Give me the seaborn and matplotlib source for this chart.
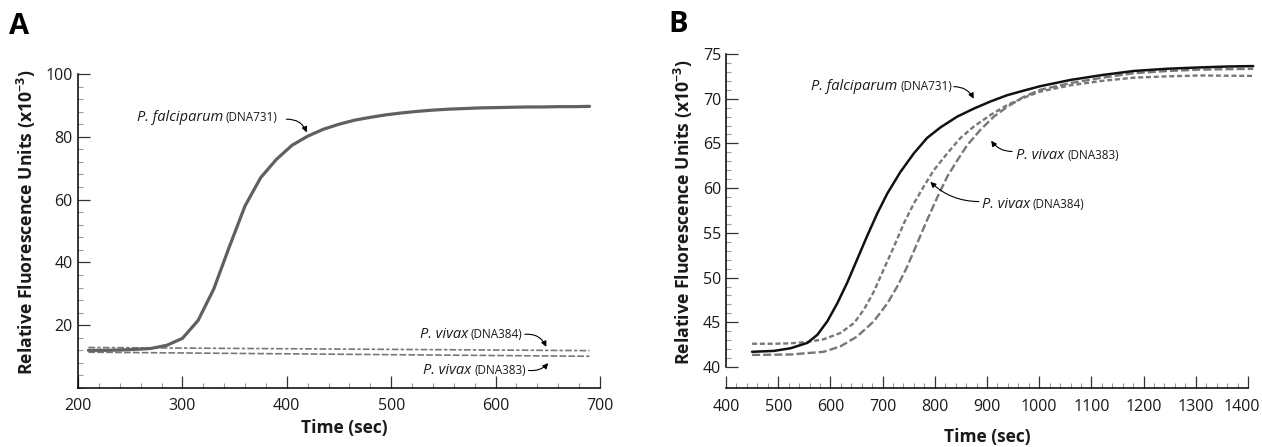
import matplotlib
matplotlib.use("Agg")
import matplotlib.pyplot as plt
import seaborn as sns
from matplotlib.ticker import FixedLocator, MultipleLocator
from matplotlib.offsetbox import TextArea, HPacker, AnnotationBbox
import matplotlib.transforms as mtransforms

# ---- Panel A: fluorescence vs time, 200-700 s ----
time_a = [210, 225, 240, 255, 270, 285, 300, 315, 330, 345, 360, 375, 390,
          405, 420, 435, 450, 465, 480, 495, 510, 525, 540, 555, 570, 585,
          600, 615, 630, 645, 660, 675, 690]
falciparum_a = [12.0, 12.0, 12.1, 12.3, 12.6, 13.6, 15.8, 21.5, 31.5, 45.0,
                58.0, 67.0, 72.8, 77.3, 80.2, 82.4, 84.0, 85.3, 86.2, 87.0,
                87.6, 88.1, 88.5, 88.8, 89.0, 89.2, 89.3, 89.4, 89.5, 89.5,
                89.6, 89.6, 89.7]
time_vivax_a = [210, 690]
vivax384_a = [12.9, 11.9]
vivax383_a = [11.4, 10.1]

# ---- Panel B: fluorescence vs time, 400-1400 s ----
time_pf_b = [450, 492, 524, 556, 575, 594, 613, 632, 651, 670, 690, 709, 734,
             760, 785, 811, 843, 875, 907, 939, 970, 1002, 1060, 1121, 1181,
             1245, 1308, 1360, 1410]
falciparum_b = [41.7, 41.8, 42.1, 42.7, 43.6, 45.1, 47.1, 49.4, 52.0, 54.6,
                57.2, 59.4, 61.8, 63.9, 65.6, 66.8, 68.0, 68.9, 69.7, 70.4,
                70.9, 71.4, 72.1, 72.65, 73.1, 73.35, 73.5, 73.6, 73.65]
time_384_b = [450, 492, 524, 556, 587, 619, 645, 664, 683, 702, 722, 741, 760,
              779, 798, 824, 849, 875, 907, 939, 970, 1002, 1060, 1121, 1181,
              1245, 1308, 1410]
vivax384_b = [42.6, 42.6, 42.65, 42.8, 43.1, 43.8, 44.9, 46.4, 48.4, 50.9,
              53.5, 56.1, 58.3, 60.2, 62.0, 63.9, 65.6, 66.9, 68.2, 69.3,
              70.1, 70.8, 71.5, 72.0, 72.35, 72.5, 72.6, 72.55]
time_383_b = [450, 524, 587, 619, 651, 683, 709, 728, 747, 766, 785, 805, 824,
              843, 862, 887, 913, 939, 970, 1002, 1041, 1060, 1121, 1181, 1245,
              1308, 1410]
vivax383_b = [41.35, 41.4, 41.7, 42.3, 43.4, 45.1, 47.1, 49.0, 51.2, 53.8,
              56.4, 59.0, 61.3, 63.1, 64.8, 66.5, 68.0, 69.1, 70.2, 71.0,
              71.5, 71.75, 72.35, 72.85, 73.1, 73.25, 73.35]

sns.set_theme(style="white")
FONT = ["Open Sans", "DejaVu Sans"]
plt.rcParams["font.family"] = FONT
plt.rcParams["mathtext.default"] = "regular"
plt.rcParams["lines.scale_dashes"] = False
plt.rcParams["axes.unicode_minus"] = False

W, H = 1262, 447
fig = plt.figure(figsize=(W / 100, H / 100), dpi=100)
fig.patch.set_facecolor("white")

def px_axes(left, top, right, bottom):
    return fig.add_axes([left / W, 1 - bottom / H, (right - left) / W, (bottom - top) / H])

axA = px_axes(78, 74, 600, 388)
axB = px_axes(726, 54, 1248, 367)

YLABEL = "Relative Fluorescence Units (x10$^{-3}$)"
TXT = "#1a1a1a"

def style_axes(ax):
    ax.set_facecolor("white")
    ax.grid(False)
    for s in ("top", "right"):
        ax.spines[s].set_visible(False)
    for s in ("left", "bottom"):
        ax.spines[s].set_color("black")
        ax.spines[s].set_linewidth(1.1)
    ax.tick_params(which="major", direction="in", length=8.5, width=0.9,
                   color="#333333", labelsize=11.5, labelcolor=TXT)
    ax.tick_params(which="minor", direction="in", length=3.5, width=0.8,
                   color="#9a9a9a")
    ax.tick_params(axis="x", which="both", bottom=True, top=False)
    ax.tick_params(axis="y", which="both", left=True, right=False)

def add_label(ax, x, y, species, strain, align):
    t1 = TextArea(species, textprops=dict(style="italic", size=10.5,
                                          family=FONT, color=TXT))
    t2 = TextArea(strain, textprops=dict(size=8.5, family=FONT, color=TXT))
    box = HPacker(children=[t1, t2], align="baseline", pad=0, sep=2)
    ab = AnnotationBbox(box, (x, y), xycoords="data",
                        box_alignment=(align, 0.5), frameon=False, pad=0)
    ax.add_artist(ab)

def add_arrow(ax, start, tip, rad):
    ax.annotate("", xy=tip, xytext=start, xycoords="data",
                arrowprops=dict(arrowstyle="-|>", color="black", lw=0.8,
                                mutation_scale=8, shrinkA=0, shrinkB=0,
                                connectionstyle=f"arc3,rad={rad}"))

# ---------------- Panel A ----------------
sns.lineplot(x=time_vivax_a, y=vivax384_a, ax=axA, color="#777777", lw=1.2,
             linestyle=(0, (4.8, 1.6, 2.4, 1.6)), errorbar=None)
sns.lineplot(x=time_vivax_a, y=vivax383_a, ax=axA, color="#777777", lw=1.2,
             linestyle=(0, (4.8, 1.6)), errorbar=None)
sns.lineplot(x=time_a, y=falciparum_a, ax=axA, color="#606060", lw=2.3,
             errorbar=None)
axA.set_xlim(200, 700)
axA.set_ylim(0, 100)
style_axes(axA)
axA.xaxis.set_major_locator(FixedLocator([200, 300, 400, 500, 600, 700]))
axA.xaxis.set_minor_locator(MultipleLocator(20))
axA.yaxis.set_major_locator(FixedLocator([20, 40, 60, 80, 100]))
axA.yaxis.set_minor_locator(MultipleLocator(4))
axA.tick_params(axis="x", pad=7)
axA.tick_params(axis="y", pad=4)
axA.set_xlabel("Time (sec)", fontsize=12.5, fontweight="bold", color=TXT, va="center")
axA.set_ylabel(YLABEL, fontsize=12.7, fontweight="bold", color=TXT, va="center")
axA.xaxis.set_label_coords(0.51, -0.127)
axA.yaxis.set_label_coords(-0.0996, 0.529)

add_label(axA, 391, 86.0, "P. falciparum", "(DNA731)", 1.0)
add_arrow(axA, (399.5, 85.6), (419.0, 81.4), -0.35)
add_label(axA, 626, 17.1, "P. vivax", "(DNA384)", 1.0)
add_arrow(axA, (628, 17.1), (648.5, 13.1), -0.35)
add_label(axA, 629, 5.7, "P. vivax", "(DNA383)", 1.0)
add_arrow(axA, (631.5, 5.6), (650.5, 7.9), 0.25)

# ---------------- Panel B ----------------
sns.lineplot(x=time_384_b, y=vivax384_b, ax=axB, color="#777777", lw=1.7,
             linestyle=(0, (3.6, 2.0)), errorbar=None)
sns.lineplot(x=time_383_b, y=vivax383_b, ax=axB, color="#777777", lw=1.7,
             linestyle=(0, (5.8, 2.2)), errorbar=None)
sns.lineplot(x=time_pf_b, y=falciparum_b, ax=axB, color="#111111", lw=1.8,
             errorbar=None)
for ln in axB.lines:
    ln.set_clip_on(False)
axB.set_xlim(400, 1400)
axB.set_ylim(40, 75)
style_axes(axB)
axB.spines["bottom"].set_position(("outward", 15.1))
axB.xaxis.set_major_locator(MultipleLocator(100))
axB.xaxis.set_minor_locator(MultipleLocator(20))
axB.yaxis.set_major_locator(MultipleLocator(5))
axB.yaxis.set_minor_locator(MultipleLocator(1))
axB.tick_params(axis="x", pad=8)
axB.tick_params(axis="y", pad=3.5)
axB.set_xlabel("Time (sec)", fontsize=12.5, fontweight="bold", color=TXT, va="center")
axB.set_ylabel(YLABEL, fontsize=12.7, fontweight="bold", color=TXT, va="center")
axB.xaxis.set_label_coords(0.5, -0.224)
axB.yaxis.set_label_coords(-0.0824, 0.495)

add_label(axB, 833, 71.4, "P. falciparum", "(DNA731)", 1.0)
add_arrow(axB, (836.5, 71.35), (874.5, 70.0), -0.3)
add_label(axB, 956, 63.6, "P. vivax", "(DNA383)", 0.0)
add_arrow(axB, (948, 64.1), (908, 65.3), -0.25)
add_label(axB, 890, 58.2, "P. vivax", "(DNA384)", 0.0)
add_arrow(axB, (884.5, 58.5), (791.5, 60.7), -0.2)

# keep the last tick label of panel B inside the canvas edge
fig.canvas.draw()
last = [t for t in axB.get_xticklabels() if t.get_text() == "1400"]
for t in last:
    t.set_transform(t.get_transform() + mtransforms.ScaledTranslation(-6 / 100, 0, fig.dpi_scale_trans))

# panel letters
fig.text(19 / W, 1 - 26 / H, "A", fontsize=21, fontweight="bold",
         ha="center", va="center", color="black")
fig.text(678 / W, 1 - 25 / H, "B", fontsize=21, fontweight="bold",
         ha="center", va="center", color="black")

fig.savefig("out.png", dpi=100, facecolor="white")
